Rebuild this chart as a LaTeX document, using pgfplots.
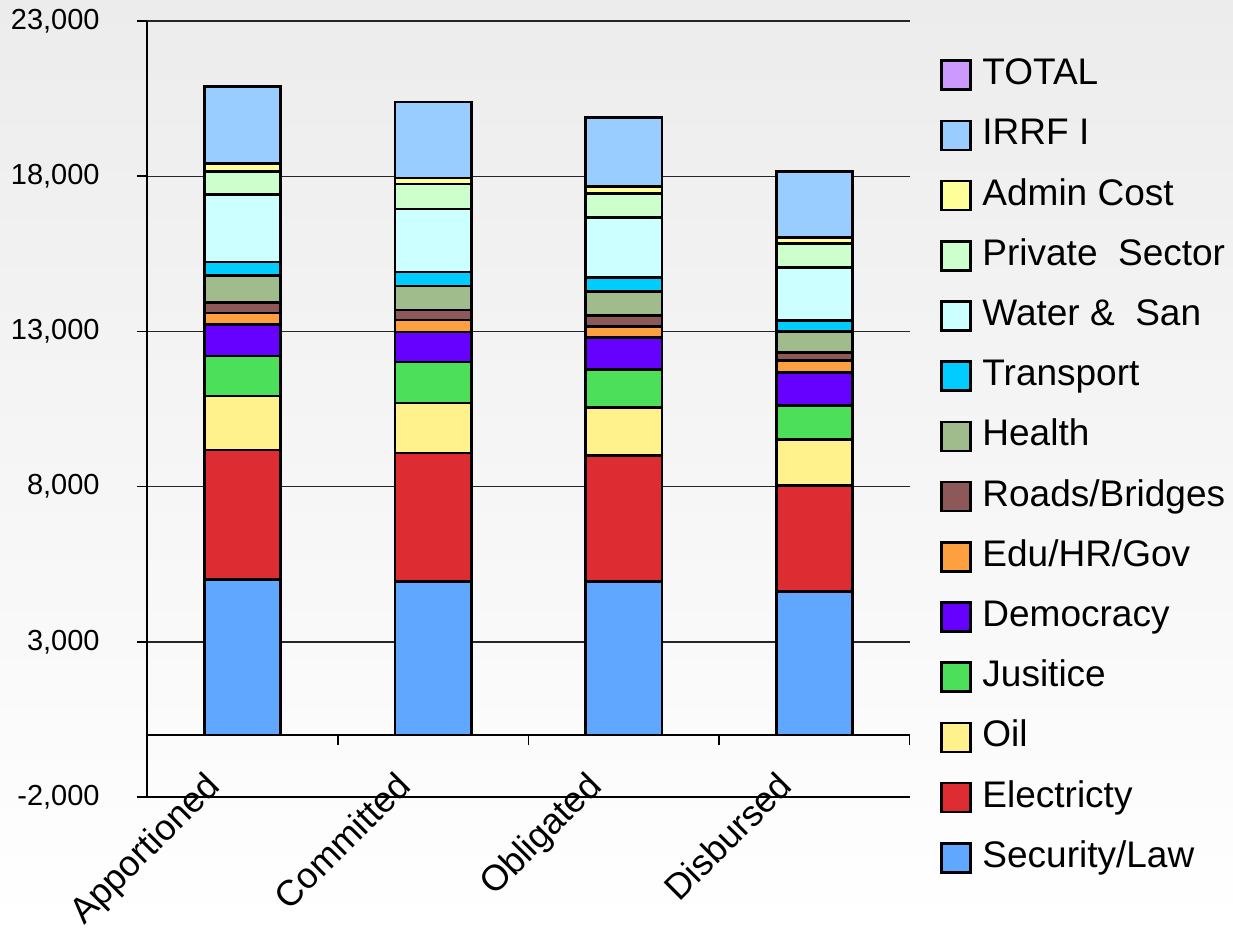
\documentclass[border=0pt]{standalone}
\usepackage{pgfplots}
\pgfplotsset{compat=1.18}
\usepackage{fontspec}
\setmainfont{Liberation Sans}
\definecolor{bgtop}{RGB}{236,236,236}
\definecolor{cTotal}{HTML}{CC99FF}
\definecolor{cIRRF}{HTML}{99CCFF}
\definecolor{cAdmin}{HTML}{FFFF99}
\definecolor{cPriv}{HTML}{CCFFCC}
\definecolor{cWater}{HTML}{CCFFFF}
\definecolor{cTrans}{HTML}{00CCFF}
\definecolor{cHealth}{HTML}{A0BC8C}
\definecolor{cRoads}{HTML}{8C5858}
\definecolor{cEdu}{HTML}{FFA040}
\definecolor{cDem}{HTML}{6600FF}
\definecolor{cJus}{HTML}{4CE05A}
\definecolor{cOil}{HTML}{FFF18C}
\definecolor{cElec}{HTML}{DD2D33}
\definecolor{cSec}{HTML}{60A8FF}
\pgfplotsset{sqlegend/.style={legend image code/.code={\draw[##1,line width=1.3pt] (0pt,-7.25pt) rectangle (14.5pt,7.25pt); \path[draw=none,fill=none] (0pt,0pt) -- (20.5pt,0pt);}}}
\begin{document}
\begin{tikzpicture}
\shade[top color=bgtop, bottom color=white] (0,0) rectangle (616.5pt,464pt);
\path[use as bounding box] (0,0) rectangle (616.5pt,464pt);
\begin{axis}[
  at={(73.5pt,65.5pt)}, anchor=south west,
  scale only axis, width=381.5pt, height=388pt,
  ybar stacked, bar width=0.4,
  xmin=-0.5, xmax=3.5, ymin=-2000, ymax=23000,
  xtick={0,1,2,3},
  xticklabels={Apportioned,Committed,Obligated,Disbursed},
  ytick={-2000,3000,8000,13000,18000,23000},
  scaled y ticks=false,
  axis x line*=bottom, axis y line*=left,
  ymajorgrids, grid style={black!85, line width=0.7pt},
  axis line style={black, line width=0.8pt},
  y tick style={black, line width=0.8pt},
  x tick style={draw=none},
  major tick length=5pt, tick align=outside,
  yticklabel style={font=\fontsize{14.5}{16}\selectfont, inner sep=0pt, xshift=-18.5pt},
  /pgf/number format/.cd, 1000 sep={,}, assume math mode=true, /pgfplots/.cd,
  xticklabel style={font=\fontsize{18}{20}\selectfont, inner sep=0pt, xshift=-19.5pt, yshift=19pt, rotate=45, anchor=north east},
  every axis plot/.append style={draw=black, line width=1.4pt, sqlegend},
  reverse legend,
  legend style={at={(1.039,0.953)}, anchor=north west, draw=none, fill=none,
    font=\fontsize{18.5}{20}\selectfont, inner sep=0pt, row sep=12.8pt,
    nodes={inner sep=0pt, text height=13.4pt, text depth=3.9pt},
    cells={anchor=west}},
]
\addplot[fill=cSec] coordinates {(0,5000) (1,4930) (2,4930) (3,4610)};
\addplot[fill=cElec] coordinates {(0,4180) (1,4155) (2,4060) (3,3415)};
\addplot[fill=cOil] coordinates {(0,1740) (1,1610) (2,1547) (3,1482)};
\addplot[fill=cJus] coordinates {(0,1290) (1,1320) (2,1224) (3,1095)};
\addplot[fill=cDem] coordinates {(0,1000) (1,966) (2,1031) (3,1063)};
\addplot[fill=cEdu] coordinates {(0,386) (1,387) (2,354) (3,387)};
\addplot[fill=cRoads] coordinates {(0,323) (1,322) (2,355) (3,258)};
\addplot[fill=cHealth] coordinates {(0,870) (1,773) (2,773) (3,676)};
\addplot[fill=cTrans] coordinates {(0,450) (1,451) (2,451) (3,355)};
\addplot[fill=cWater] coordinates {(0,2160) (1,2030) (2,1933) (3,1707)};
\addplot[fill=cPriv] coordinates {(0,740) (1,805) (2,773) (3,773)};
\addplot[fill=cAdmin] coordinates {(0,260) (1,194) (2,226) (3,194)};
\addplot[fill=cIRRF] coordinates {(0,2480) (1,2448) (2,2223) (3,2126)};
\addlegendimage{fill=cTotal, draw=black, sqlegend}
\legend{Security/Law,Electricty,Oil,Jusitice,Democracy,Edu/HR/Gov,Roads/Bridges,Health,Transport,Water \&\ \ San,Private\ \ Sector,Admin Cost,IRRF I,TOTAL}
\draw[black, line width=0.8pt] (axis cs:-0.5,0) -- (axis cs:3.5,0);
\draw[black, line width=0.8pt] (axis cs:0.5,0) -- (axis cs:0.5,-322);
\draw[black, line width=0.8pt] (axis cs:1.5,0) -- (axis cs:1.5,-322);
\draw[black, line width=0.8pt] (axis cs:2.5,0) -- (axis cs:2.5,-322);
\draw[black, line width=0.8pt] (axis cs:3.5,0) -- (axis cs:3.5,-322);
\end{axis}
\end{tikzpicture}
\end{document}
